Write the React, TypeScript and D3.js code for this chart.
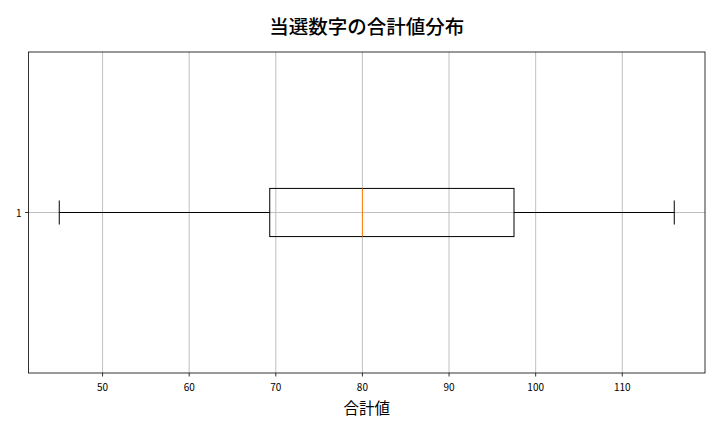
import React from 'react';
import * as d3 from 'd3';

// box stats
const categories = ['1'];
const whiskerLow = [45];
const q1 = [69.3];
const median = [80];
const q3 = [97.5];
const whiskerHigh = [116];
const xTicks = [50, 60, 70, 80, 90, 100, 110];

const W = 720;
const H = 432;
const margin = { top: 52, right: 15, bottom: 59, left: 28.5 };
const FONT = '"Noto Sans CJK JP", "Noto Sans", sans-serif';

const App: React.FC = () => {
  const innerW = W - margin.left - margin.right;
  const innerH = H - margin.top - margin.bottom;

  // matplotlib-style 5% padding on the data range
  const lo = d3.min(whiskerLow)!;
  const hi = d3.max(whiskerHigh)!;
  const pad = (hi - lo) * 0.05;
  const x = d3.scaleLinear().domain([lo - pad, hi + pad]).range([0, innerW]);
  const y = d3.scaleLinear().domain([0.5, categories.length + 0.5]).range([innerH, 0]);

  const boxHalf = (y(0) - y(0.15)) / 2;
  const capHalf = boxHalf / 2;
  const midX = margin.left + innerW / 2;

  return (
    <svg width={W} height={H} style={{ position: 'absolute', left: 0, top: 0, background: '#fff' }}>
      <text x={midX} y={25} textAnchor="middle" dominantBaseline="central"
        fontFamily={FONT} fontSize={19.5} fontWeight={500} fill="#000">
        当選数字の合計値分布
      </text>
      <g transform={`translate(${margin.left},${margin.top})`}>
        {/* grid */}
        {xTicks.map((t) => (
          <line key={`gx${t}`} x1={x(t)} x2={x(t)} y1={0} y2={innerH} stroke="#b0b0b0" strokeWidth={0.8} />
        ))}
        {categories.map((c, i) => (
          <line key={`gy${c}`} x1={0} x2={innerW} y1={y(i + 1)} y2={y(i + 1)} stroke="#b0b0b0" strokeWidth={0.8} />
        ))}

        {/* boxes */}
        {categories.map((c, i) => {
          const cy = y(i + 1);
          return (
            <g key={`box${c}`} stroke="#000" strokeWidth={1} fill="none">
              <line x1={x(whiskerLow[i])} x2={x(q1[i])} y1={cy} y2={cy} />
              <line x1={x(q3[i])} x2={x(whiskerHigh[i])} y1={cy} y2={cy} />
              <line x1={x(whiskerLow[i])} x2={x(whiskerLow[i])} y1={cy - capHalf} y2={cy + capHalf} />
              <line x1={x(whiskerHigh[i])} x2={x(whiskerHigh[i])} y1={cy - capHalf} y2={cy + capHalf} />
              <rect x={x(q1[i])} y={cy - boxHalf} width={x(q3[i]) - x(q1[i])} height={boxHalf * 2} />
              <line x1={x(median[i])} x2={x(median[i])} y1={cy - boxHalf} y2={cy + boxHalf} stroke="#ff7f0e" />
            </g>
          );
        })}

        {/* frame */}
        <rect x={0} y={0} width={innerW} height={innerH} fill="none" stroke="#000" strokeWidth={0.8} />

        {/* x ticks */}
        {xTicks.map((t) => (
          <g key={`tx${t}`} transform={`translate(${x(t)},${innerH})`}>
            <line y1={0} y2={3.5} stroke="#000" strokeWidth={0.8} />
            <text y={13} textAnchor="middle" dominantBaseline="central" fontFamily={FONT} fontSize={10} fill="#000">
              {t}
            </text>
          </g>
        ))}
        {/* y ticks */}
        {categories.map((c, i) => (
          <g key={`ty${c}`} transform={`translate(0,${y(i + 1)})`}>
            <line x1={0} x2={-3.5} stroke="#000" strokeWidth={0.8} />
            <text x={-7} textAnchor="end" dominantBaseline="central" fontFamily={FONT} fontSize={10} fill="#000">
              {c}
            </text>
          </g>
        ))}
      </g>
      <text x={midX} y={407} textAnchor="middle" dominantBaseline="central"
        fontFamily={FONT} fontSize={15.5} fill="#000">
        合計値
      </text>
    </svg>
  );
};

export default App;
